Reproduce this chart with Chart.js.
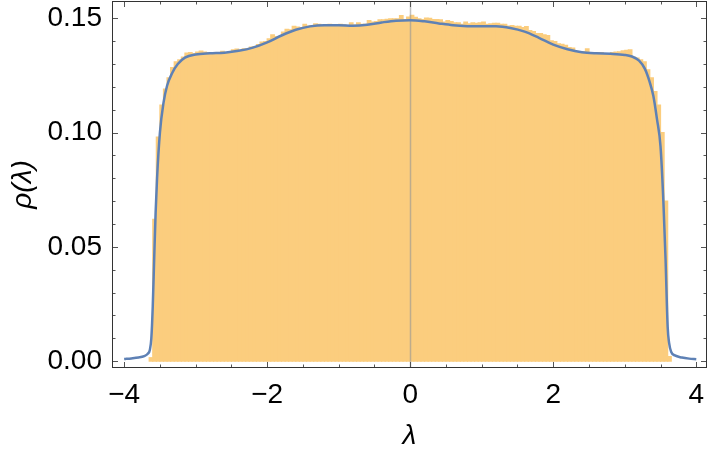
<!DOCTYPE html>
<html>
<head>
<meta charset="utf-8">
<script src="https://cdn.jsdelivr.net/npm/chart.js@4"></script>
<style>
  html, body { margin: 0; padding: 0; background: #fff; }
  #wrap { width: 710px; height: 457px; }
</style>
</head>
<body>
<div id="wrap"><canvas id="chart"></canvas></div>
<script>
// histogram bins (left edge of first bin, width) and bar heights
const binStart = -3.65;
const binWidth = 0.05;
const histHeights = [
  0.0015, 0.062, 0.098, 0.112, 0.119, 0.124, 0.1285, 0.131, 0.1318, 0.1330,
  0.1348, 0.1350, 0.1346, 0.1352, 0.1357, 0.1352, 0.1350, 0.1348, 0.1344, 0.1346,
  0.1356, 0.1350, 0.1348, 0.1362, 0.1365, 0.1360, 0.1367, 0.1368, 0.1374, 0.1376,
  0.1385, 0.1396, 0.1398, 0.1410, 0.1428, 0.1420, 0.1418, 0.1440, 0.1452, 0.1450,
  0.1465, 0.1462, 0.1460, 0.1474, 0.1466, 0.1468, 0.1476, 0.1474, 0.1466, 0.1466,
  0.1474, 0.1472, 0.1470, 0.1474, 0.1472, 0.1466, 0.1480, 0.1470, 0.1480, 0.1474,
  0.1474, 0.1490, 0.1484, 0.1486, 0.1494, 0.1494, 0.1496, 0.1498, 0.1498, 0.1498,
  0.1512, 0.1495, 0.1505, 0.1513, 0.1504, 0.1498, 0.1495, 0.1501, 0.1500, 0.1495,
  0.1495, 0.1494, 0.1484, 0.1490, 0.1486, 0.1480, 0.1480, 0.1474, 0.1484, 0.1476,
  0.1480, 0.1478, 0.1480, 0.1484, 0.1474, 0.1476, 0.1478, 0.1478, 0.1474, 0.1474,
  0.1466, 0.1468, 0.1465, 0.1465, 0.1460, 0.1464, 0.1446, 0.1442, 0.1433, 0.1433,
  0.1428, 0.1425, 0.1402, 0.1398, 0.1389, 0.1386, 0.1382, 0.1372, 0.1370, 0.1355,
  0.1352, 0.1354, 0.1367, 0.1350, 0.1348, 0.1350, 0.1350, 0.1345, 0.1345, 0.1350,
  0.1352, 0.1354, 0.1358, 0.1360, 0.1362, 0.1330, 0.1326, 0.1318, 0.1310, 0.1275,
  0.1240, 0.1180, 0.1120, 0.1000, 0.0700, 0.0020
];

// fitted density curve
const curveX = [
  -4.00, -3.90, -3.80, -3.72, -3.67, -3.64, -3.62, -3.60, -3.58, -3.56,
  -3.54, -3.50, -3.45, -3.40, -3.33, -3.25, -3.15, -3.00, -2.80, -2.60,
  -2.40, -2.20, -2.00, -1.80, -1.60, -1.40, -1.20, -1.00, -0.80, -0.60,
  -0.40, -0.20, 0.00, 0.20, 0.40, 0.60, 0.80, 1.00, 1.20, 1.40,
  1.60, 1.80, 2.00, 2.20, 2.40, 2.60, 2.80, 3.00, 3.10, 3.20,
  3.28, 3.35, 3.40, 3.45, 3.50, 3.54, 3.57, 3.60, 3.62, 3.65,
  3.70, 3.80, 3.90, 4.00
];
const curveY = [
  0.0009, 0.0012, 0.0016, 0.0022, 0.0032, 0.0050, 0.0100, 0.0240, 0.0450, 0.0650,
  0.0800, 0.1000, 0.1130, 0.1205, 0.1260, 0.1300, 0.1328, 0.1342, 0.1347, 0.1350,
  0.1358, 0.1372, 0.1395, 0.1425, 0.1450, 0.1465, 0.1470, 0.1470, 0.1468, 0.1472,
  0.1482, 0.1490, 0.1492, 0.1487, 0.1478, 0.1470, 0.1466, 0.1465, 0.1465, 0.1458,
  0.1442, 0.1415, 0.1385, 0.1365, 0.1352, 0.1347, 0.1345, 0.1340, 0.1333, 0.1315,
  0.1280, 0.1220, 0.1160, 0.1060, 0.0940, 0.0700, 0.0450, 0.0150, 0.0080, 0.0040,
  0.0025, 0.0016, 0.0011, 0.0008
];

// frame ticks and labels
const xMajorTicks = [-4, -2, 0, 2, 4];
const xMinorTicks = [-3.5, -3, -2.5, -1.5, -1, -0.5, 0.5, 1, 1.5, 2.5, 3, 3.5];
const yMajorTicks = [0, 0.05, 0.10, 0.15];
const yMinorTicks = [0.01, 0.02, 0.03, 0.04, 0.06, 0.07, 0.08, 0.09, 0.11, 0.12, 0.13, 0.14];

const HIST_COLOR = 'rgb(251, 205, 126)';
const CURVE_COLOR = '#5E81B5';
const FONT = '"Liberation Sans", Arial, sans-serif';

const histData = histHeights.map((h, i) => ({ x: binStart + binWidth * (i + 0.5), y: h }));
const curveData = curveX.map((x, i) => ({ x, y: curveY[i] }));

const fmtX = v => (v < 0 ? '\u2212' + Math.abs(v) : String(v));

// frame with inward ticks on all four sides, plus the gray axis at x = 0
const framePlugin = {
  id: 'frame',
  afterDatasetDraw(chart, args) {
    if (args.index !== 0) return;
    const { ctx, chartArea: a, scales: { x } } = chart;
    const px = Math.round(x.getPixelForValue(0)) + 0.5;
    ctx.save();
    ctx.strokeStyle = 'rgba(150,150,150,0.6)';
    ctx.lineWidth = 1.5;
    ctx.beginPath();
    ctx.moveTo(px, a.top);
    ctx.lineTo(px, a.bottom);
    ctx.stroke();
    ctx.restore();
  },
  afterDraw(chart) {
    const { ctx, chartArea: a, scales: { x, y } } = chart;
    ctx.save();
    ctx.strokeStyle = '#555';
    ctx.lineWidth = 1;
    const tick = (list, len) => {
      list.forEach(v => {
        const px = Math.round(x.getPixelForValue(v)) + 0.5;
        ctx.beginPath();
        ctx.moveTo(px, a.bottom); ctx.lineTo(px, a.bottom - len);
        ctx.moveTo(px, a.top); ctx.lineTo(px, a.top + len);
        ctx.stroke();
      });
    };
    const ytick = (list, len) => {
      list.forEach(v => {
        const py = Math.round(y.getPixelForValue(v)) + 0.5;
        ctx.beginPath();
        ctx.moveTo(a.left, py); ctx.lineTo(a.left + len, py);
        ctx.moveTo(a.right, py); ctx.lineTo(a.right - len, py);
        ctx.stroke();
      });
    };
    tick(xMajorTicks, 6);
    tick(xMinorTicks, 3.5);
    ytick(yMajorTicks, 6);
    ytick(yMinorTicks, 3.5);
    ctx.strokeStyle = '#333';
    ctx.strokeRect(Math.round(a.left) + 0.5, Math.round(a.top) + 0.5,
      Math.round(a.right - a.left) - 1, Math.round(a.bottom - a.top) - 1);
    ctx.restore();
  }
};

new Chart(document.getElementById('chart'), {
  type: 'bar',
  data: {
    datasets: [
      {
        type: 'bar',
        data: histData,
        backgroundColor: HIST_COLOR,
        borderWidth: 0,
        inflateAmount: 0.6,
        barPercentage: 1,
        categoryPercentage: 1,
        grouped: false,
        order: 2
      },
      {
        type: 'line',
        data: curveData,
        borderColor: CURVE_COLOR,
        borderWidth: 2.5,
        pointRadius: 0,
        cubicInterpolationMode: 'monotone',
        fill: false,
        order: 1
      }
    ]
  },
  options: {
    responsive: true,
    maintainAspectRatio: false,
    animation: false,
    layout: { padding: { top: 1, right: 3, left: 0, bottom: 0 } },
    plugins: { legend: { display: false }, tooltip: { enabled: false } },
    scales: {
      x: {
        type: 'linear',
        min: -4.17,
        max: 4.15,
        offset: false,
        grid: { display: false, offset: false, drawTicks: false },
        border: { display: false },
        afterBuildTicks: s => { s.ticks = xMajorTicks.map(value => ({ value })); },
        afterFit: s => { s.height = 89; s.paddingLeft = 0; s.paddingRight = 0; },
        ticks: {
          color: '#000',
          padding: 10,
          maxRotation: 0,
          font: { family: FONT, size: 28 },
          callback: v => fmtX(v)
        },
        title: {
          display: true,
          text: 'λ',
          color: '#000',
          padding: { top: 0, bottom: 4 },
          font: { family: FONT, size: 28, style: 'italic' }
        }
      },
      y: {
        min: -0.003,
        max: 0.1576,
        grid: { display: false, drawTicks: false },
        border: { display: false },
        afterBuildTicks: s => { s.ticks = yMajorTicks.map(value => ({ value })); },
        afterFit: s => { s.width = 112; s.paddingTop = 0; s.paddingBottom = 0; },
        ticks: {
          color: '#000',
          padding: 10,
          font: { family: FONT, size: 28 },
          callback: v => v.toFixed(2)
        },
        title: {
          display: true,
          text: 'ρ(λ)',
          color: '#000',
          padding: { top: 6, bottom: 0 },
          font: { family: FONT, size: 28, style: 'italic' }
        }
      }
    }
  },
  plugins: [framePlugin]
});
</script>
</body>
</html>
